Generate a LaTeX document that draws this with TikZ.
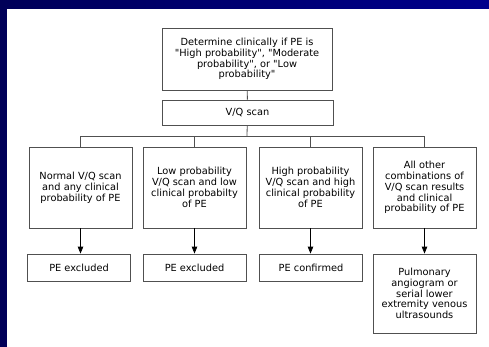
\documentclass[tikz,border=0pt]{standalone}
\usepackage{fontspec}
\setmainfont{DejaVu Sans}[Ligatures=TeXOff]
\usetikzlibrary{arrows.meta}

\definecolor{folieblau}{RGB}{0,0,110}
\definecolor{folieblauhell}{RGB}{0,0,140}
\definecolor{rahmengrau}{RGB}{80,80,80}

\tikzset{
  kasten/.style={draw=rahmengrau, line width=0.8pt, fill=white, align=center,
    inner sep=1pt, font=\fontsize{9.8}{10.8}\selectfont},
  verbinder/.style={draw=rahmengrau, line width=0.8pt},
  pfeil/.style={line width=0.8pt, -{Triangle[length=7pt,width=5.5pt]}},
}

\begin{document}
\begin{tikzpicture}[x=1pt,y=-1pt]

% ---------- Parameter (einheitliche Boxgrößen) ----------
\def\bw{103}
\def\yrow{187.5}
\def\yend{267.5}

\useasboundingbox (0,0) rectangle (489,347);

% ---------- Hintergrund der Folie ----------
\shade[left color=folieblau!80!black, right color=folieblauhell] (0,0) rectangle (489,347);
\fill[white] (7,9) rectangle (489,347);

% ===================
% oben: Einstieg und Scan
% ===================
\node[kasten, minimum width=170, minimum height=62] (klinik) at (247,59)
  {Determine clinically if PE is\\"High probability", "Moderate\\probability", or "Low\\probability"};
\node[kasten, minimum width=171, minimum height=25] (vq) at (247.5,112.5) {V/Q scan};
\coordinate (bus) at (247,136);

% ===================
% Mitte: Befundkombinationen
% ===================
\node[kasten, minimum width=\bw, minimum height=81] (normal) at (80.5,\yrow)
  {Normal V/Q scan\\and any clinical\\probability of PE};
\node[kasten, minimum width=\bw, minimum height=81] (niedrig) at (194.5,\yrow)
  {Low probability\\V/Q scan and low\\clinical probabilty\\of PE};
\node[kasten, minimum width=\bw, minimum height=81] (hoch) at (310.5,\yrow)
  {High probability\\V/Q scan and high\\clinical probability\\of PE};
\node[kasten, minimum width=\bw, minimum height=81] (andere) at (424.5,\yrow)
  {All other\\combinations of\\V/Q scan results\\and clinical\\probability of PE};

% ===================
% unten: Ergebnisse
% ===================
\node[kasten, minimum width=\bw, minimum height=27] (aus1) at (79,\yend) {PE excluded};
\node[kasten, minimum width=\bw, minimum height=27] (aus2) at (194.5,\yend) {PE excluded};
\node[kasten, minimum width=\bw, minimum height=27] (bestaetigt) at (311,\yend) {PE confirmed};
\node[kasten, minimum width=\bw, minimum height=79] (weiter) at (424.5,293.5)
  {Pulmonary\\angiogram or\\serial lower\\extremity venous\\ultrasounds};

% Verbindungen
\draw[verbinder] (klinik) -- (vq);
\draw[verbinder] (vq) -- (bus);
\foreach \ziel in {normal,niedrig,hoch,andere}
  \draw[verbinder] (bus) -| (\ziel.north);

\draw[pfeil] (normal) -- (aus1.north -| normal.south);
\draw[pfeil] (niedrig) -- (aus2);
\draw[pfeil] (hoch) -- (bestaetigt.north -| hoch.south);
\draw[pfeil] (andere) -- (weiter);

\end{tikzpicture}
\end{document}
